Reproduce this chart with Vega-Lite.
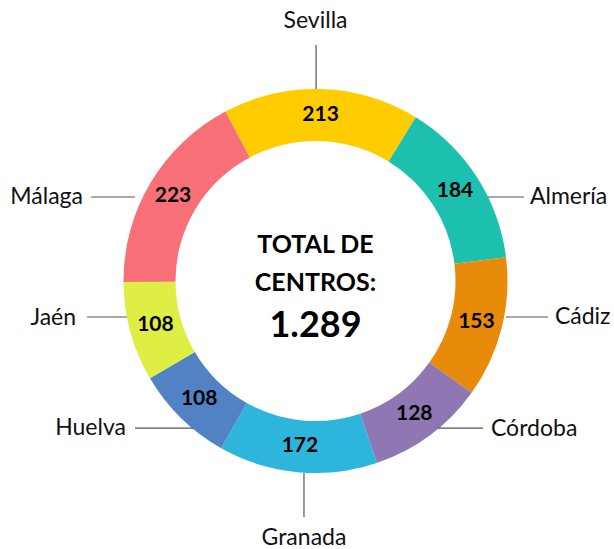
{
  "$schema": "https://vega.github.io/schema/vega-lite/v6.json",
  "width": 614,
  "height": 549,
  "autosize": {"type": "none"},
  "padding": 0,
  "background": "white",
  "config": {"view": {"stroke": null}, "font": "Lato"},
  "datasets": {
    "segs": [
      {"provincia": "Sevilla", "centros": 213, "o": 1},
      {"provincia": "Almería", "centros": 184, "o": 2},
      {"provincia": "Cádiz", "centros": 153, "o": 3},
      {"provincia": "Córdoba", "centros": 128, "o": 4},
      {"provincia": "Granada", "centros": 172, "o": 5},
      {"provincia": "Huelva", "centros": 108, "o": 6},
      {"provincia": "Jaén", "centros": 108, "o": 7},
      {"provincia": "Málaga", "centros": 223, "o": 8}
    ],
    "leaders": [
      {"provincia": "Sevilla", "x1": 0.3, "x2": 0.3, "y1": 100, "y2": 122.9, "lx": 0, "ly": 135.4, "al": "center"},
      {"provincia": "Almería", "x1": 89.8, "x2": 108.6, "y1": 43.75, "y2": 43.75, "lx": 111.7, "ly": 43.75, "al": "left"},
      {"provincia": "Cádiz", "x1": 99.2, "x2": 121.1, "y1": -18.75, "y2": -18.75, "lx": 124.7, "ly": -18.75, "al": "left"},
      {"provincia": "Córdoba", "x1": 63.8, "x2": 87.2, "y1": -76.6, "y2": -76.6, "lx": 91.4, "ly": -77.3, "al": "left"},
      {"provincia": "Granada", "x1": -6, "x2": -6, "y1": -100, "y2": -122.9, "lx": -6, "ly": -133.9, "al": "center"},
      {"provincia": "Huelva", "x1": -94, "x2": -63.8, "y1": -76.6, "y2": -76.6, "lx": -98.7, "ly": -76.6, "al": "right"},
      {"provincia": "Jaén", "x1": -119, "x2": -98.2, "y1": -18.75, "y2": -18.75, "lx": -124.7, "ly": -19.2, "al": "right"},
      {"provincia": "Málaga", "x1": -116.9, "x2": -94, "y1": 43.75, "y2": 43.75, "lx": -121.1, "ly": 43.75, "al": "right"}
    ],
    "centro": [
      {"t": "TOTAL DE", "cx": 0, "cy": 18.75},
      {"t": "CENTROS:", "cx": 0, "cy": -1.0}
    ],
    "total": [
      {"t": "1.289", "cx": 0, "cy": -23.4}
    ]
  },
  "layer": [
    {
      "data": {"name": "segs"},
      "encoding": {
        "theta": {"field": "centros", "type": "quantitative", "stack": true, "scale": {"range": [-0.4887, 5.7945]}},
        "order": {"field": "o", "type": "quantitative"},
        "x": {"datum": 0, "type": "quantitative", "scale": {"domain": [-164.32, 155.47], "nice": false, "zero": false}, "axis": null},
        "y": {"datum": 0, "type": "quantitative", "scale": {"domain": [-139.58, 146.35], "nice": false, "zero": false}, "axis": null}
      },
      "layer": [
        {
          "mark": {"type": "arc", "outerRadius": 192, "innerRadius": 140},
          "encoding": {
            "color": {
              "field": "provincia", "type": "nominal", "legend": null,
              "scale": {
                "domain": ["Sevilla", "Almería", "Cádiz", "Córdoba", "Granada", "Huelva", "Jaén", "Málaga"],
                "range": ["#FFCC00", "#1DBFAF", "#E88A0A", "#8E77B3", "#2EB5DC", "#5183C4", "#DEEE44", "#F77078"]
              }
            }
          }
        },
        {
          "mark": {"type": "text", "radius": 166, "fontSize": 21, "fontWeight": "bold", "color": "#000000", "baseline": "middle", "align": "center"},
          "encoding": {"text": {"field": "centros", "type": "quantitative"}}
        }
      ]
    },
    {
      "data": {"name": "leaders"},
      "mark": {"type": "rule", "color": "#555555", "strokeWidth": 1.2},
      "encoding": {
        "x": {"field": "x1", "type": "quantitative"},
        "x2": {"field": "x2"},
        "y": {"field": "y1", "type": "quantitative"},
        "y2": {"field": "y2"}
      }
    },
    {
      "data": {"name": "leaders"},
      "transform": [{"filter": "datum.al == 'left'"}],
      "mark": {"type": "text", "align": "left", "baseline": "middle", "fontSize": 23, "color": "#111111"},
      "encoding": {
        "x": {"field": "lx", "type": "quantitative"},
        "y": {"field": "ly", "type": "quantitative"},
        "text": {"field": "provincia"}
      }
    },
    {
      "data": {"name": "leaders"},
      "transform": [{"filter": "datum.al == 'right'"}],
      "mark": {"type": "text", "align": "right", "baseline": "middle", "fontSize": 23, "color": "#111111"},
      "encoding": {
        "x": {"field": "lx", "type": "quantitative"},
        "y": {"field": "ly", "type": "quantitative"},
        "text": {"field": "provincia"}
      }
    },
    {
      "data": {"name": "leaders"},
      "transform": [{"filter": "datum.al == 'center'"}],
      "mark": {"type": "text", "align": "center", "baseline": "middle", "fontSize": 23, "color": "#111111"},
      "encoding": {
        "x": {"field": "lx", "type": "quantitative"},
        "y": {"field": "ly", "type": "quantitative"},
        "text": {"field": "provincia"}
      }
    },
    {
      "data": {"name": "centro"},
      "mark": {"type": "text", "align": "center", "baseline": "middle", "fontSize": 25, "fontWeight": "bold", "color": "#000000"},
      "encoding": {
        "x": {"field": "cx", "type": "quantitative"},
        "y": {"field": "cy", "type": "quantitative"},
        "text": {"field": "t"}
      }
    },
    {
      "data": {"name": "total"},
      "mark": {"type": "text", "align": "center", "baseline": "middle", "fontSize": 36, "fontWeight": "bold", "color": "#000000"},
      "encoding": {
        "x": {"field": "cx", "type": "quantitative"},
        "y": {"field": "cy", "type": "quantitative"},
        "text": {"field": "t"}
      }
    }
  ]
}
